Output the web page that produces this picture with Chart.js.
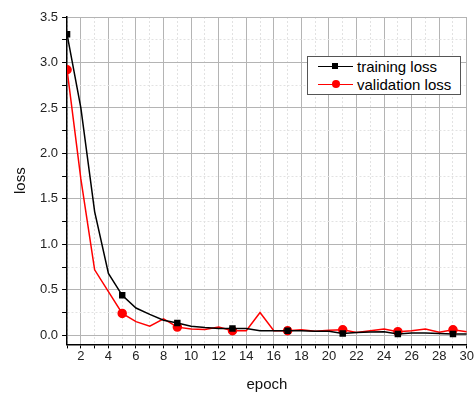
<!DOCTYPE html>
<html>
<head>
<meta charset="utf-8">
<script src="https://cdn.jsdelivr.net/npm/chart.js@4/dist/chart.umd.min.js"></script>
<style>
  body { margin: 0; background: #fff; }
  #wrap { position: relative; width: 474px; height: 394px; }
  .legend {
    position: absolute; left: 307px; top: 56px; width: 152px; height: 37px;
    border: 1px solid #555; background: #fff;
    font-family: "Liberation Sans", Arial, sans-serif; font-size: 15px; color: #000;
  }
  .row { position: absolute; left: 0; height: 18px; line-height: 18px; white-space: nowrap; }
  .ln { position: absolute; left: 10px; top: 8px; width: 35px; height: 0; border-top: 1.5px solid; }
  .mk { position: absolute; left: 24px; }
  .txt { position: absolute; left: 49px; top: 0; }
</style>
</head>
<body>
<div id="wrap">
  <canvas id="myChart" width="474" height="394"></canvas>
  <div class="legend">
    <div class="row" style="top:1px">
      <span class="ln" style="border-color:#000"></span>
      <span class="mk" style="top:5px;width:6px;height:6px;background:#000"></span>
      <span class="txt">training loss</span>
    </div>
    <div class="row" style="top:19px">
      <span class="ln" style="border-color:#f00"></span>
      <span class="mk" style="top:4px;width:8px;height:8px;border-radius:50%;background:#f00"></span>
      <span class="txt">validation loss</span>
    </div>
  </div>
</div>
<script>
// data
const epochs = [1, 2, 3, 4, 5, 6, 7, 8, 9, 10, 11, 12, 13, 14, 15,
  16, 17, 18, 19, 20, 21, 22, 23, 24, 25, 26, 27, 28, 29, 30];
const trainingLoss = [3.31, 2.5, 1.36, 0.68, 0.44, 0.30, 0.23, 0.165, 0.135, 0.10,
  0.085, 0.075, 0.075, 0.075, 0.05, 0.05, 0.05, 0.05, 0.045, 0.045,
  0.02, 0.03, 0.035, 0.04, 0.015, 0.025, 0.025, 0.02, 0.015, 0.015];
const validationLoss = [2.92, 1.72, 0.72, 0.48, 0.24, 0.15, 0.10, 0.18, 0.09, 0.07,
  0.065, 0.09, 0.05, 0.05, 0.25, 0.05, 0.05, 0.06, 0.045, 0.055,
  0.06, 0.03, 0.05, 0.07, 0.04, 0.05, 0.07, 0.035, 0.06, 0.04];
const markerEpochs = [1, 5, 9, 13, 17, 21, 25, 29];
const yTicks = [0, 0.5, 1.0, 1.5, 2.0, 2.5, 3.0, 3.5];

const font = { family: "'Liberation Sans', Arial, sans-serif", size: 13 };
const titleFont = { family: "'Liberation Sans', Arial, sans-serif", size: 15 };

function pts(arr) {
  return epochs.map((e, i) => ({ x: e, y: arr[i] }));
}
function markerRadius(r) {
  return (c) => markerEpochs.includes(epochs[c.dataIndex]) ? r : 0;
}

const ctx = document.getElementById("myChart");

new Chart(ctx, {
  type: "line",
  data: {
    datasets: [
      {
        label: "training loss",
        data: pts(trainingLoss),
        borderColor: "#000",
        backgroundColor: "#000",
        borderWidth: 1.5,
        pointStyle: "rect",
        pointRadius: markerRadius(3.5),
        pointHoverRadius: markerRadius(3.5),
      },
      {
        label: "validation loss",
        data: pts(validationLoss),
        borderColor: "#ff0000",
        backgroundColor: "#ff0000",
        borderWidth: 1.5,
        pointStyle: "circle",
        pointRadius: markerRadius(4),
        pointHoverRadius: markerRadius(4),
      },
    ],
  },
  options: {
    responsive: false,
    animation: false,
    layout: { padding: { left: 8, right: 0, top: 17, bottom: 0 } },
    plugins: { legend: { display: false }, tooltip: { enabled: false } },
    scales: {
      x: {
        type: "linear",
        min: 1,
        max: 30,
        ticks: {
          stepSize: 1,
          autoSkip: false,
          maxRotation: 0,
          color: "#222",
          font: font,
          padding: 0,
          callback: (v) => (v % 2 === 0 ? v : ""),
        },
        grid: {
          color: (c) => (c.tick && c.tick.value % 2 === 0 ? "#b4b4b4" : "#e2e2e2"),
          lineWidth: 1,
          tickColor: "#000",
          tickLength: 4,
        },
        border: {
          color: "#000",
          width: 1.5,
          dash: (c) => (c.tick && c.tick.value % 2 === 0 ? [] : [2, 2]),
        },
        title: { display: true, text: "epoch", color: "#111", font: titleFont, padding: { top: 12, bottom: 0 } },
      },
      y: {
        type: "linear",
        min: -0.1,
        max: 3.5,
        afterBuildTicks: (axis) => {
          const t = [];
          for (let v = 0; v <= 3.5 + 1e-9; v += 0.25) t.push({ value: Math.round(v * 100) / 100 });
          axis.ticks = t;
        },
        ticks: {
          color: "#222",
          font: font,
          padding: 4,
          callback: (v) => (yTicks.includes(v) ? v.toFixed(1) : ""),
        },
        grid: {
          color: (c) => (c.tick && yTicks.includes(c.tick.value) ? "#b4b4b4" : "#e2e2e2"),
          lineWidth: 1,
          tickColor: "#000",
          tickLength: 5,
        },
        border: {
          color: "#000",
          width: 1.5,
          dash: (c) => (c.tick && yTicks.includes(c.tick.value) ? [] : [2, 2]),
        },
        title: { display: true, text: "loss", color: "#111", font: titleFont, padding: { bottom: 6 } },
      },
    },
  },
});
</script>
</body>
</html>
